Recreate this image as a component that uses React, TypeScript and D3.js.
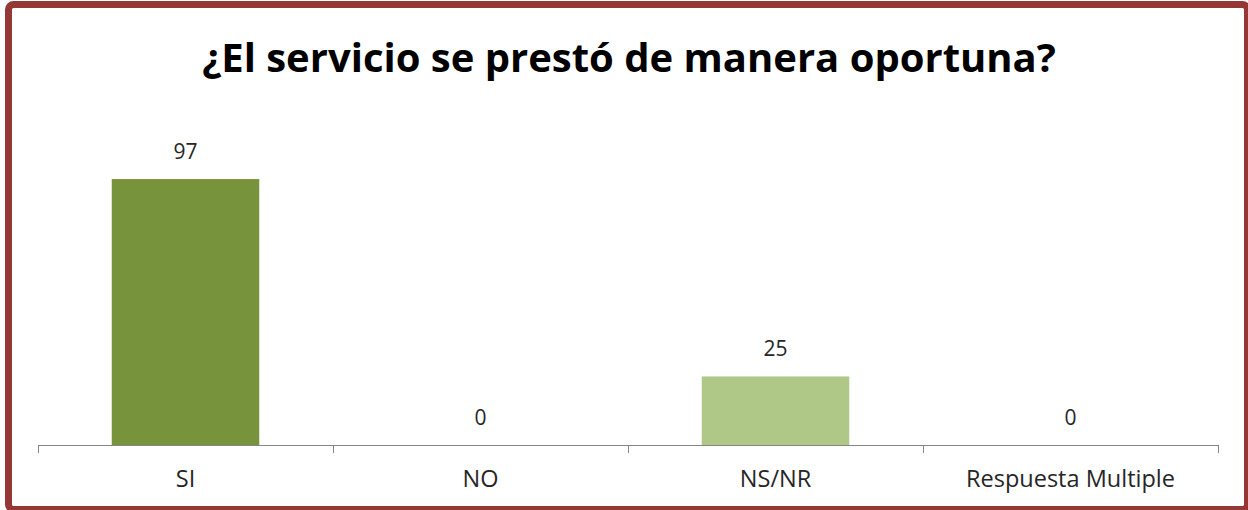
import React from 'react';
import * as d3 from 'd3';

const categories = ['SI', 'NO', 'NS/NR', 'Respuesta Multiple'];
const values = [97, 0, 25, 0];
const barColors = ['#77933C', '#77933C', '#AFC787', '#AFC787'];
const title = '¿El servicio se prestó de manera oportuna?';

const W = 1248;
const H = 510;
const font = '"Open Sans", Lato, sans-serif';

export default function App() {
  const x = d3.scaleBand<string>().domain(categories).range([38, 1218]).paddingInner(0).paddingOuter(0);
  const y = d3.scaleLinear().domain([0, 120]).range([445, 116]);
  const barW = x.bandwidth() / 2;
  const ticks = categories.map((c) => x(c) as number).concat([1218]);

  return (
    <svg width={W} height={H} style={{ position: 'absolute', left: 0, top: 0, background: '#fff' }}>
      <rect x={8.5} y={4.5} width={1239} height={505} rx={5} fill="#fff" stroke="#953735" strokeWidth={7} />
      <text x={629} y={72} textAnchor="middle" fontFamily={font} fontWeight="bold" fontSize={40} fill="#000">
        {title}
      </text>
      {categories.map((c, i) => {
        const cx = (x(c) as number) + x.bandwidth() / 2;
        const top = y(values[i]);
        return (
          <g key={c}>
            {values[i] > 0 && (
              <rect x={cx - barW / 2} y={top} width={barW} height={y(0) - top} fill={barColors[i]} />
            )}
            <text x={cx} y={top - 20} textAnchor="middle" fontFamily={font} fontSize={21} fill="#262626">
              {values[i]}
            </text>
            <text x={cx} y={487} textAnchor="middle" fontFamily={font} fontSize={23.5} fill="#262626">
              {c}
            </text>
          </g>
        );
      })}
      <line x1={38} x2={1218} y1={445.5} y2={445.5} stroke="#868686" strokeWidth={1} />
      {ticks.map((t, i) => (
        <line key={i} x1={t + 0.5} x2={t + 0.5} y1={445} y2={453} stroke="#868686" strokeWidth={1} />
      ))}
    </svg>
  );
}
